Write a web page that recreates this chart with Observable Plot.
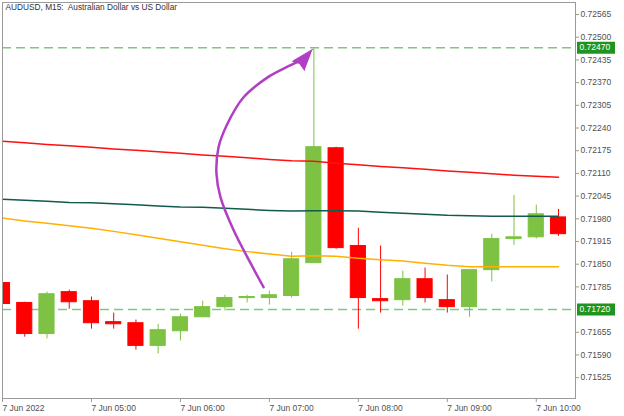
<!DOCTYPE html>
<html><head><meta charset="utf-8">
<script src="https://cdn.jsdelivr.net/npm/d3@7"></script>
<script src="https://cdn.jsdelivr.net/npm/@observablehq/plot@0.6"></script>
<style>body{margin:0;background:#fff}</style>
</head><body><div id="chart"></div>
<script>
const title = "AUDUSD, M15:  Australian Dollar vs US Dollar";
const times = ["04:00","04:15","04:30","04:45","05:00","05:15","05:30","05:45","06:00","06:15","06:30","06:45","07:00","07:15","07:30","07:45","08:00","08:15","08:30","08:45","09:00","09:15","09:30","09:45","10:00","10:15"];
const opens  = [0.71796,0.71739,0.71650,0.71770,0.71744,0.71684,0.71681,0.71616,0.71658,0.71698,0.71727,0.71753,0.71753,0.71759,0.71853,0.72182,0.71902,0.71750,0.71747,0.71807,0.71747,0.71727,0.71833,0.71922,0.71927,0.71984];
const highs  = [0.71801,0.71741,0.71770,0.71776,0.71756,0.71710,0.71690,0.71678,0.71707,0.71744,0.71761,0.71761,0.71773,0.71884,0.72470,0.72185,0.71953,0.71902,0.71830,0.71839,0.71819,0.71833,0.71936,0.72047,0.72019,0.72007];
const lows   = [0.71730,0.71641,0.71636,0.71721,0.71664,0.71664,0.71604,0.71593,0.71630,0.71698,0.71716,0.71739,0.71733,0.71753,0.71853,0.71893,0.71664,0.71710,0.71730,0.71739,0.71710,0.71698,0.71799,0.71904,0.71922,0.71930];
const closes = [0.71736,0.71650,0.71764,0.71741,0.71681,0.71678,0.71616,0.71661,0.71698,0.71727,0.71753,0.71756,0.71761,0.71864,0.72185,0.71896,0.71753,0.71744,0.71807,0.71753,0.71727,0.71833,0.71922,0.71927,0.71993,0.71936];
const maRed    = [0.72202,0.72198,0.72193,0.72189,0.72185,0.72180,0.72176,0.72172,0.72168,0.72163,0.72159,0.72155,0.72150,0.72146,0.72145,0.72139,0.72135,0.72130,0.72126,0.72122,0.72117,0.72113,0.72109,0.72105,0.72102,0.72099];
const maTeal   = [0.72036,0.72033,0.72030,0.72027,0.72026,0.72023,0.72020,0.72017,0.72014,0.72013,0.72010,0.72007,0.72004,0.72002,0.72003,0.72003,0.72002,0.71999,0.71996,0.71993,0.71990,0.71989,0.71987,0.71987,0.71987,0.71987];
const maOrange = [0.71982,0.71974,0.71967,0.71960,0.71953,0.71944,0.71934,0.71924,0.71914,0.71904,0.71894,0.71886,0.71879,0.71873,0.71874,0.71873,0.71867,0.71863,0.71859,0.71853,0.71847,0.71843,0.71843,0.71843,0.71843,0.71843];
const levels = [0.72470, 0.71720];
const yTicks = [0.72565,0.72500,0.72435,0.72370,0.72305,0.72240,0.72175,0.72110,0.72045,0.71980,0.71915,0.71850,0.71785,0.71655,0.71590,0.71525];
const xTickTimes = ["04:00","05:00","06:00","07:00","08:00","09:00","10:00"];
const xTickLabels = ["7 Jun 2022","7 Jun 05:00","7 Jun 06:00","7 Jun 07:00","7 Jun 08:00","7 Jun 09:00","7 Jun 10:00"];
// annotation arrow (minutes after 04:00, price)
const arrowMin   = [176.1,167.3,155.9,147.0,144.3,145.7,151.8,162.6,178.8,190.9,201.0];
const arrowPrice = [0.71784,0.71853,0.71947,0.72042,0.72110,0.72185,0.72253,0.72328,0.72385,0.72413,0.72433];
const headMin   = [209.1,195.6,200.3,203.7];
const headPrice = [0.72465,0.72431,0.72425,0.72405];

const base = Date.UTC(2022,5,7,4,0);
const T = s => new Date(`2022-06-07T${s}:00Z`);
const M = m => new Date(base + m*60000);

const bars = times.map((s,i)=>({t:T(s), o:opens[i], h:highs[i], l:lows[i], c:closes[i], up: closes[i]>=opens[i], r:maRed[i], g:maTeal[i], y:maOrange[i]}));
const arrow = arrowMin.map((m,i)=>({t:M(m), p:arrowPrice[i]}));
const head = headMin.map((m,i)=>({t:M(m), p:headPrice[i]}));
const xTicks = xTickTimes.map(T);
const labelOf = new Map(xTicks.map((d,i)=>[+d, xTickLabels[i]]));

const GREEN = "#7dc242", RED = "#ff0000", PURPLE = "#b13ec4";
const half = 5.1*60000;

const chart = Plot.plot({
  width: 624, height: 416,
  marginLeft: 2, marginRight: 49, marginTop: 2, marginBottom: 18,
  style: {fontFamily: "Liberation Sans, Arial, sans-serif", fontSize: "8.5px", background: "#fff"},
  x: {type: "utc", domain: [T("04:00"), M(386.46)]},
  y: {domain: [0.714654, 0.725994]},
  marks: [
    Plot.ruleY(levels, {y: d=>d, stroke: "#5fb85f", strokeOpacity: 0.8, strokeDasharray: "9,5", strokeWidth: 1.5}),
    Plot.ruleX(bars, {x: "t", y1: "l", y2: "h", stroke: d=>d.up?GREEN:RED, strokeWidth: 1, clip: true}),
    Plot.rect(bars, {x1: d=>new Date(+d.t-half), x2: d=>new Date(+d.t+half), y1: "o", y2: "c",
      fill: d=>d.up?GREEN:RED, stroke: d=>d.up?GREEN:RED, strokeWidth: 1, clip: true}),
    Plot.line(bars, {x: "t", y: "r", stroke: "#ff1010", strokeWidth: 1.5}),
    Plot.line(bars, {x: "t", y: "g", stroke: "#115a4c", strokeWidth: 1.5}),
    Plot.line(bars, {x: "t", y: "y", stroke: "#ffb000", strokeWidth: 1.5}),
    Plot.line(arrow, {x: "t", y: "p", stroke: PURPLE, strokeWidth: 2.5, curve: "catmull-rom"}),
    Plot.line(head, {x: "t", y: "p", stroke: PURPLE, fill: PURPLE, strokeWidth: 1, strokeLinejoin: "miter"}),
    Plot.frame({stroke: "#9a9a9a"}),
    Plot.axisY({anchor: "right", ticks: yTicks, tickFormat: d3.format(".5f"), tickSize: 3, tickPadding: 2, label: null, color: "#505050", stroke: "#9a9a9a"}),
    Plot.ruleY(levels, {y: d=>d, stroke: "#1f951f", strokeWidth: 12, insetLeft: 575, insetRight: -40}),
    Plot.text(levels, {y: d=>d, text: d=>d3.format(".5f")(d), frameAnchor: "right", dx: 4, textAnchor: "start", fill: "#fff"}),
    Plot.axisX({ticks: xTicks, tickFormat: d=>labelOf.get(+d), tickSize: 4, tickPadding: 2, textAnchor: "start", label: null, color: "#505050", stroke: "#9a9a9a"}),
    Plot.text([title], {frameAnchor: "top-left", dx: 3, dy: 2, lineAnchor: "top", textAnchor: "start", fontSize: 8.3, fill: "#333"})
  ]
});
document.getElementById("chart").append(chart);
</script>
</body></html>
